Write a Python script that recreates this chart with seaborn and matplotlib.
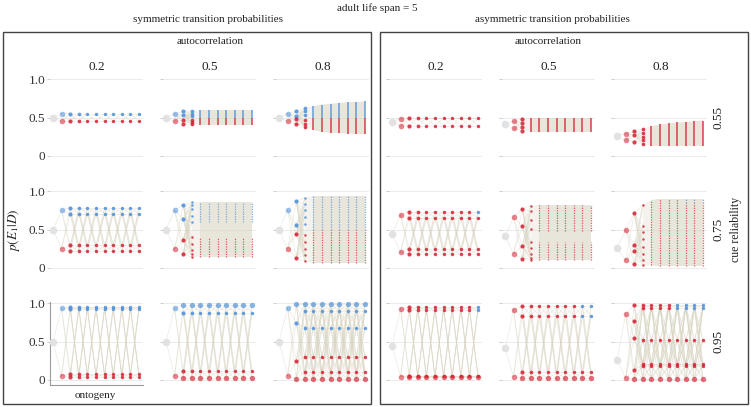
import pandas as pd
import matplotlib.pyplot as plt
import seaborn as sns
from matplotlib.patches import Rectangle

sns.set_theme(style='white')
plt.rcParams['font.family'] = ['Liberation Serif', 'DejaVu Serif']
plt.rcParams['mathtext.fontset'] = 'stix'

# ---------------------------------------------------------------- data
autocorr = ['0.2', '0.5', '0.8']
reliability = ['0.55', '0.75', '0.95']
ytick_labels = ['0', '0.5', '1.0']

# marker size per time step (prior, 1st cue, 2nd cue, ...)
dot_sizes = [30, 16, 9, 7, 6, 6, 6, 6, 6, 6, 6]

# each column is a list of posterior values (dots) or of (lo, hi) bands
# symmetric transition probabilities
sym_prior = [0.5, 0.5, 0.5]

sym_055_02 = [[0.55, 0.45]] + [[0.552, 0.448]] * 9
sym_055_05 = [[0.55, 0.45], [0.58, 0.53, 0.47, 0.42],
              [0.587, 0.552, 0.517, 0.47, 0.443, 0.409]] + [[(0.405, 0.595)]] * 7
sym_055_08 = [[0.55, 0.45], [0.587, 0.517, 0.483, 0.413],
              [0.626, 0.583, 0.539, 0.461, 0.417, 0.374],
              [(0.335, 0.652)], [(0.31, 0.67)], [(0.30, 0.68)], [(0.295, 0.69)],
              [(0.29, 0.70)], [(0.285, 0.705)], [(0.28, 0.71)]]

sym_075_02 = [[0.75, 0.25]] + [[0.787, 0.709, 0.291, 0.213]] * 9
sym_075_05 = [[0.75, 0.25], [0.826, 0.643, 0.357, 0.174],
              [0.857, 0.817, 0.77, 0.683, 0.596, 0.404, 0.317, 0.23, 0.183, 0.143]] \
    + [[(0.6, 0.86), (0.14, 0.4)]] * 7
sym_075_08 = [[0.75, 0.25], [0.878, 0.56, 0.44, 0.122],
              [0.913, 0.83, 0.75, 0.66, 0.57, 0.43, 0.34, 0.25, 0.17, 0.087]] \
    + [[(0.06, 0.94)]] * 7

sym_095_02 = [[0.935, 0.052]] + [[0.952, 0.922, 0.07, 0.035]] * 9
sym_095_05 = [[0.935, 0.052]] + [[0.978, 0.878, 0.117, 0.022]] * 9
sym_095_08 = [[0.935, 0.052], [0.987, 0.748, 0.24, 0.01]] \
    + [[0.987, 0.9, 0.683, 0.304, 0.104, 0.01]] * 8

# asymmetric transition probabilities
asym_prior = [0.44, 0.409, 0.257]

asym_055_02 = [[0.487, 0.387]] + [[0.496, 0.391]] * 9
asym_055_05 = [[0.452, 0.357], [0.483, 0.43, 0.38, 0.33],
               [(0.31, 0.49)]] + [[(0.305, 0.496)]] * 7
asym_055_08 = [[0.29, 0.204], [0.32, 0.27, 0.183], [0.348, 0.3, 0.25, 0.2, 0.152],
               [(0.13, 0.387)], [(0.126, 0.409)], [(0.126, 0.422)], [(0.126, 0.435)],
               [(0.126, 0.443)], [(0.13, 0.452)], [(0.13, 0.46)]]

asym_075_02 = [[0.691, 0.204]] + [[0.735, 0.652, 0.243, 0.174]] * 9
asym_075_05 = [[0.661, 0.183], [0.77, 0.543, 0.278, 0.117],
               [0.813, 0.739, 0.63, 0.509, 0.335, 0.26, 0.183, 0.13, 0.104]] \
    + [[(0.487, 0.826), (0.096, 0.335)]] * 7
asym_075_08 = [[0.496, 0.096], [0.713, 0.304, 0.213, 0.052],
               [0.826, 0.552, 0.465, 0.378, 0.27, 0.183, 0.104, 0.03],
               [(0.03, 0.887)]] + [[(0.017, 0.9)]] * 6

asym_095_02 = [[0.93, 0.04]] + [[0.948, 0.91, 0.052, 0.035]] * 9
asym_095_05 = [[0.913, 0.04]] + [[0.965, 0.835, 0.096, 0.017]] * 9
asym_095_08 = [[0.857, 0.017], [0.974, 0.77, 0.552, 0.13, 0.01]] \
    + [[0.978, 0.94, 0.517, 0.204, 0.183, 0.01]] * 8

# first step at which the top levels turn blue, and the level above which
sym_blue_from = [[1, 1, 1]] * 3
sym_blue_above = [[0.5, 0.5, 0.5]] * 3
asym_blue_from = [[11, 11, 11], [10, 10, 8], [10, 9, 7]]
asym_blue_above = [[1.0, 1.0, 1.0], [0.7, 0.8, 0.85], [0.9, 0.8, 0.9]]

# levels carrying most of the probability (drawn larger)
sym_heavy = [[[], [], []], [[], [], []], [[], [0.978, 0.022], [0.987, 0.01]]]
asym_heavy = [[[], [], []], [[], [], []], [[0.035], [0.017], [0.01]]]

panels = {
    'sym': [[sym_055_02, sym_055_05, sym_055_08],
            [sym_075_02, sym_075_05, sym_075_08],
            [sym_095_02, sym_095_05, sym_095_08]],
    'asym': [[asym_055_02, asym_055_05, asym_055_08],
             [asym_075_02, asym_075_05, asym_075_08],
             [asym_095_02, asym_095_05, asym_095_08]],
}

# -------------------------------------------------------------- styling
BLUE = '#4a8fdc'
RED = '#d41f33'
GREY = '#e2e2e2'
BEIGE = '#d9d5c2'
GRID = '#ebebeb'

W, H = 751, 407
PW, PH = 93.3, 86.4
col_left = {'sym': [50, 163, 276], 'asym': [389, 502, 614]}
row_top = [74.7, 186.7, 298.7]

fig = plt.figure(figsize=(W / 100, H / 100), dpi=100)


def ftext(x, y, s, **kw):
    fig.text(x / W, 1 - y / H, s, ha='center', va='center', color='#222', **kw)


def is_band(col):
    return isinstance(col[0], tuple)


def envelope(col):
    vals = [v for c in col for v in (c if isinstance(c, tuple) else (c,))]
    return min(vals), max(vals)


def draw_panel(ax, prior, cols, blue_from, blue_above, heavy, band_ls):
    columns = [[prior]] + cols
    # connections between successive time steps
    for t in range(10):
        a, b = columns[t], columns[t + 1]
        if not is_band(a) and not is_band(b):
            for ya in a:
                for yb in b:
                    ax.plot([t, t + 1], [ya, yb], color=BEIGE, lw=0.5, alpha=0.5, zorder=1)
        else:
            lo_a, hi_a = envelope(a)
            lo_b, hi_b = envelope(b)
            alpha = 0.6 if (is_band(a) and is_band(b)) else 0.3
            ax.fill([t, t, t + 1, t + 1], [lo_a, hi_a, hi_b, lo_b],
                    color=BEIGE, alpha=alpha, lw=0, zorder=1)

    band_lw = 1.1 if band_ls == '-' else 0.9
    band_alpha = 0.85 if band_ls == '-' else 0.7
    rows = [(0, prior, GREY, dot_sizes[0], 1.0)]
    for t, col in enumerate(cols, start=1):
        if is_band(col):
            for lo, hi in col:
                kw = dict(lw=band_lw, linestyles=band_ls, alpha=band_alpha, zorder=2)
                if t >= blue_from and hi > blue_above:
                    cut = max(lo, blue_above)
                    ax.vlines(t, cut, hi, colors=BLUE, **kw)
                    if lo < cut:
                        ax.vlines(t, lo, cut, colors=RED, **kw)
                else:
                    ax.vlines(t, lo, hi, colors=RED, **kw)
            continue
        for y in col:
            c = BLUE if (t >= blue_from and y > blue_above) else RED
            s = dot_sizes[t] if len(col) <= 6 else 3
            a = 0.55 if t == 1 else 0.85
            if y in heavy and t > 1:
                s, a = 15, 0.65
            rows.append((t, y, c, s, a))
    df = pd.DataFrame(rows, columns=['t', 'p', 'color', 'size', 'alpha'])
    for (c, s, a), g in df.groupby(['color', 'size', 'alpha']):
        sns.scatterplot(data=g, x='t', y='p', color=c, s=s, alpha=a,
                        linewidth=0, legend=False, ax=ax, zorder=3)


for side in ['sym', 'asym']:
    for i in range(3):
        for j in range(3):
            left = col_left[side][j]
            top = row_top[i]
            ax = fig.add_axes([left / W, 1 - (top + PH) / H, PW / W, PH / H])
            for v in [0, 0.5, 1]:
                ax.axhline(v, color=GRID, lw=0.7, zorder=0)
            style = '-' if i == 0 else (0, (1, 1))
            if side == 'sym':
                draw_panel(ax, sym_prior[j], panels[side][i][j], sym_blue_from[i][j],
                           sym_blue_above[i][j], sym_heavy[i][j], style)
            else:
                draw_panel(ax, asym_prior[j], panels[side][i][j], asym_blue_from[i][j],
                           asym_blue_above[i][j], asym_heavy[i][j], style)
            ax.set_xlim(-0.35, 10.5)
            ax.set_ylim(-0.07, 1.06)
            ax.set_xlabel('')
            ax.set_ylabel('')
            ax.set_xticks([])
            ax.set_yticks([0, 0.5, 1])
            ax.tick_params(axis='y', left=True, length=2, width=0.6, color='#c4c4c4',
                           pad=1.5, labelsize=9.5, labelcolor='#333')
            if side == 'sym' and j == 0:
                ax.set_yticklabels(ytick_labels)
            else:
                ax.set_yticklabels([])
            for sp in ax.spines.values():
                sp.set_visible(False)
            ax.patch.set_alpha(0)
            if side == 'sym' and i == 2 and j == 0:
                ax.spines['left'].set_visible(True)
                ax.spines['bottom'].set_visible(True)
                for k in ['left', 'bottom']:
                    ax.spines[k].set_color('#9a9a9a')
                    ax.spines[k].set_linewidth(0.8)
                ax.spines['left'].set_bounds(-0.07, 1.02)

# boxes around the two groups
for x0, x1 in [(3, 371), (380, 748)]:
    fig.patches.append(Rectangle((x0 / W, 1 - 404 / H), (x1 - x0) / W, (404 - 32) / H,
                                 transform=fig.transFigure, fill=False,
                                 edgecolor='#444', lw=1.0))

# text
ftext(377, 8, 'adult life span = 5', fontsize=8)
ftext(208, 19, 'symmetric transition probabilities', fontsize=8)
ftext(552, 19, 'asymmetric transition probabilities', fontsize=8)
ftext(210, 41, 'autocorrelation', fontsize=8)
ftext(548, 41, 'autocorrelation', fontsize=8)
for side in ['sym', 'asym']:
    for j, lab in enumerate(autocorr):
        ftext(col_left[side][j] + PW / 2, 67, lab, fontsize=9.5)
for i, lab in enumerate(reliability):
    ftext(719, row_top[i] + 43, lab, fontsize=9.5, rotation=90)
ftext(736, 229, 'cue reliability', fontsize=8.5, rotation=90)
ftext(14, 230, r'$p(E_1|D)$', fontsize=9.5, rotation=90)
ftext(95, 396, 'ontogeny', fontsize=8)

fig.savefig('out.png', dpi=100)
